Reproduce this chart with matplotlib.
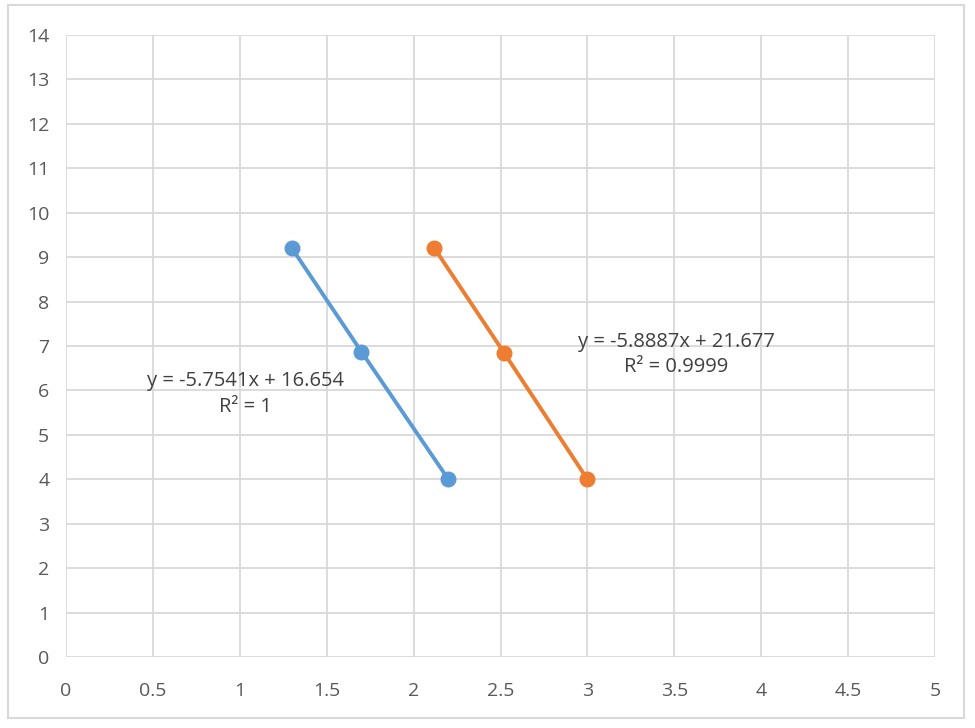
import matplotlib
matplotlib.use("Agg")
import matplotlib.pyplot as plt
from matplotlib.patches import Rectangle

blue_x = [1.3, 1.7, 2.2]
blue_y = [9.2, 6.87, 4.0]
orange_x = [2.12, 2.52, 3.0]
orange_y = [9.2, 6.85, 4.0]
blue_eq = "y = -5.7541x + 16.654"
blue_r2 = "R² = 1"
orange_eq = "y = -5.8887x + 21.677"
orange_r2 = "R² = 0.9999"
x_ticks = [0, 0.5, 1, 1.5, 2, 2.5, 3, 3.5, 4, 4.5, 5]
x_labels = ["0", "0.5", "1", "1.5", "2", "2.5", "3", "3.5", "4", "4.5", "5"]
y_ticks = list(range(0, 15))

plt.rcParams['font.family'] = ['Open Sans', 'DejaVu Sans']

fig = plt.figure(figsize=(9.75, 7.28), dpi=100)
fig.patches.append(Rectangle((8/975, 1-718/728), (964-8)/975, (718-5)/728,
                             transform=fig.transFigure, fill=False,
                             edgecolor="#d9d9d9", linewidth=1.5))
ax = fig.add_axes([66/975, 1-657/728, (935-66)/975, (657-35)/728])
ax.set_xlim(0, 5)
ax.set_ylim(0, 14)
ax.set_xticks(x_ticks)
ax.set_xticklabels(x_labels)
ax.set_yticks(y_ticks)
ax.grid(True, color="#d9d9d9", linewidth=1.3)
ax.set_axisbelow(True)
for s in ax.spines.values():
    s.set_visible(False)
ax.tick_params(length=0, labelsize=14, colors="#595959", pad=18)
ax.tick_params(axis='y', pad=12)

ax.plot(blue_x, blue_y, color="#5b9bd5", linewidth=2.8, marker='o', markersize=10.5)
ax.plot(orange_x, orange_y, color="#ed7d31", linewidth=2.8, marker='o', markersize=10.5)

tc = "#404040"
ax.text(1.03, 6.22, blue_eq, ha='center', va='center', fontsize=14.5, color=tc)
ax.text(1.03, 5.63, blue_r2, ha='center', va='center', fontsize=14.5, color=tc)
ax.text(3.51, 7.1, orange_eq, ha='center', va='center', fontsize=14.5, color=tc)
ax.text(3.51, 6.52, orange_r2, ha='center', va='center', fontsize=14.5, color=tc)

fig.savefig("out.png", dpi=100)
